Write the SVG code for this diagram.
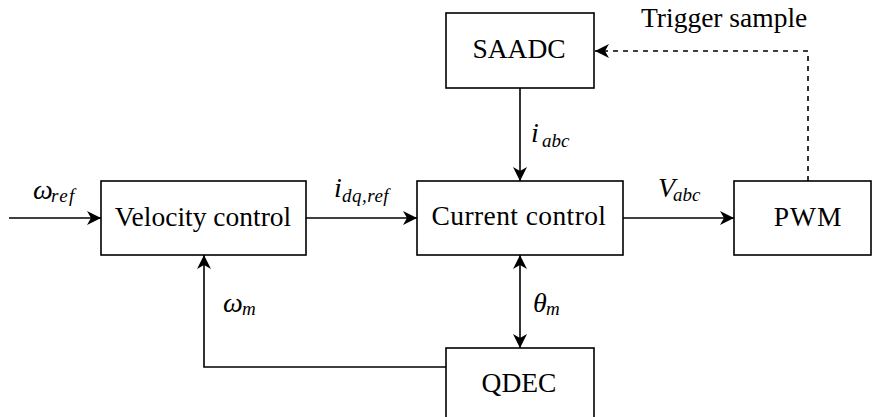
<svg xmlns="http://www.w3.org/2000/svg" width="872" height="417" viewBox="0 0 872 417">
  <style>
    .box { fill: #ffffff; stroke: #000000; stroke-width: 1.6; }
    .wire { fill: none; stroke: #000000; stroke-width: 1.6; }
    .dash { stroke-dasharray: 5 5; }
    .lbl { font-family: "Liberation Serif", serif; font-size: 27.5px; fill: #000000; text-anchor: middle; }
    .sym { font-family: "Liberation Serif", serif; font-style: italic; font-size: 28px; fill: #000000; }
    .sub { font-family: "Liberation Serif", serif; font-style: italic; font-size: 19px; fill: #000000; }
  </style>
  <defs>
    <marker id="stealth" viewBox="-14 -8 16 16" refX="0" refY="0" markerWidth="16" markerHeight="16" markerUnits="userSpaceOnUse" orient="auto-start-reverse">
      <path d="M0,0 L-14,-7 L-10,0 L-14,7 z" fill="#000000" stroke="none"/>
    </marker>
  </defs>

  <g id="connectors">
    <path class="wire" d="M9,218 L101,218" marker-end="url(#stealth)"/>
    <path class="wire" d="M306,218 L417,218" marker-end="url(#stealth)"/>
    <path class="wire" d="M623,218 L734,218" marker-end="url(#stealth)"/>
    <path class="wire" d="M520,88 L520,181" marker-end="url(#stealth)"/>
    <path class="wire" d="M520,255 L520,348" marker-start="url(#stealth)" marker-end="url(#stealth)"/>
    <path class="wire" d="M446,367 L204,367 L204,255" marker-end="url(#stealth)"/>
    <path class="wire dash" d="M808,181 L808,51 L595,51" marker-end="url(#stealth)"/>

    <!-- signal labels: symbol in italic, subscript smaller and lowered -->
    <text class="sym" x="33" y="199">ω</text>
    <text class="sub" x="51" y="202" letter-spacing="1.5">ref</text>
    <text class="sym" x="334" y="197">i</text>
    <text class="sub" x="342" y="202" letter-spacing="0.5">dq,ref</text>
    <text class="sym" x="658" y="197">V</text>
    <text class="sub" x="673" y="201">abc</text>
    <text class="sym" x="531" y="142">i</text>
    <text class="sub" x="542" y="147">abc</text>
    <text class="sym" x="223" y="312">ω</text>
    <text class="sub" x="242" y="315">m</text>
    <text class="sym" x="533" y="312">θ</text>
    <text class="sub" x="546" y="315">m</text>
    <text class="lbl" x="641" y="27" style="text-anchor:start">Trigger sample</text>
  </g>

  <g id="velocity-control">
    <rect class="box" x="101" y="181" width="205" height="74"/>
    <text class="lbl" x="203" y="226">Velocity control</text>
  </g>
  <g id="current-control">
    <rect class="box" x="417" y="181" width="206" height="74"/>
    <text class="lbl" x="519" y="225" letter-spacing="0.4">Current control</text>
  </g>
  <g id="saadc">
    <rect class="box" x="446" y="13" width="148" height="75"/>
    <text class="lbl" x="519" y="58">SAADC</text>
  </g>
  <g id="pwm">
    <rect class="box" x="734" y="181" width="137" height="74"/>
    <text class="lbl" x="808" y="226" letter-spacing="1">PWM</text>
  </g>
  <g id="qdec">
    <rect class="box" x="446" y="348" width="148" height="74"/>
    <text class="lbl" x="519" y="392">QDEC</text>
  </g>
</svg>
